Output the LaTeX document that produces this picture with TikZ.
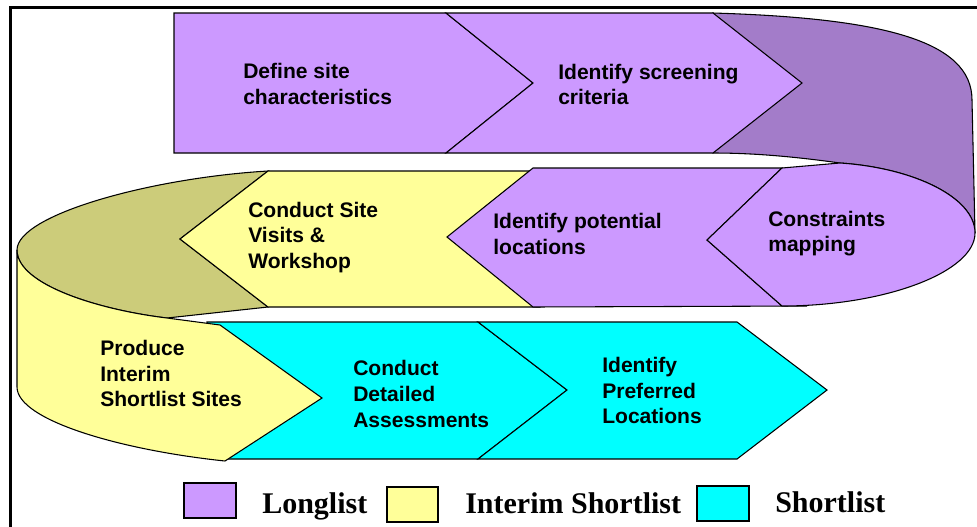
\documentclass[tikz,border=0pt]{standalone}
\usepackage{fontspec}
\setmainfont{Liberation Sans}
\newfontfamily\legendfont{Liberation Serif}
\definecolor{lpurple}{HTML}{CC99FF}
\definecolor{dpurple}{HTML}{A37CC9}
\definecolor{lyellow}{HTML}{FFFF99}
\definecolor{olive}{HTML}{CCCC7A}
\definecolor{lcyan}{HTML}{00FFFF}
\tikzset{
  shp/.style={draw=black, line width=0.8pt, line join=miter},
  lbl/.style={anchor=west, align=left, inner sep=0pt, font=\bfseries\fontsize{15.8}{19.2}\selectfont},
  leg/.style={anchor=base west, inner sep=0pt, font=\legendfont\bfseries\fontsize{22.5}{26}\selectfont},
  legbox/.style={draw=black, line width=0.8pt}
}
\begin{document}
\begin{tikzpicture}[x=0.75pt,y=-0.75pt]
\useasboundingbox (0,0) rectangle (977,526);
\clip (0,0) rectangle (977,526);
% frame
\draw[line width=2.25pt] (10,540) -- (10,7) -- (1000,7);
% dark back band
\fill[dpurple, shp] (713,13) .. controls (880,18) and (972,40) .. (972,100) -- (975,233)
  .. controls (975,198) and (915,168) .. (840,163)
  .. controls (790,156) and (750,153) .. (713,153) -- cycle;
% top row
\filldraw[fill=lpurple, shp] (174,13) -- (446,13) -- (533,83) -- (446,153) -- (174,153) -- cycle;
\filldraw[fill=lpurple, shp] (446,13) -- (713,13) -- (802,83) -- (713,153) -- (446,153) -- (533,83) -- cycle;
% second row: left olive loop
\filldraw[fill=olive, shp] (268,171) .. controls (150,178) and (17,215) .. (17,250)
  .. controls (17,285) and (100,310) .. (167,318) -- (268,307) -- (180,239) -- cycle;
\filldraw[fill=lyellow, shp] (268,171) -- (540,171) -- (540,307) -- (268,307) -- (180,239) -- cycle;
\filldraw[fill=lpurple, shp] (533,168) -- (782,168) -- (707,240) -- (782,306) -- (807,306) -- (533,307) -- (447,237) -- cycle;
\filldraw[fill=lpurple, shp] (782,168) -- (840,163) .. controls (915,168) and (975,198) .. (975,233)
  .. controls (975,272) and (885,306) .. (782,306) -- (707,240) -- cycle;
% third row
\filldraw[fill=lcyan, shp] (207,322) -- (478,322) -- (567,390) -- (478,459) -- (215,459) -- cycle;
\filldraw[fill=lcyan, shp] (478,322) -- (737,322) -- (827,390) -- (737,459) -- (478,459) -- (567,390) -- cycle;
\filldraw[fill=lyellow, shp] (17,250) -- (17,387) .. controls (17,420) and (120,450) .. (225,461)
  -- (322,398) -- (220,325) -- (167,318) .. controls (100,310) and (17,285) .. (17,250) -- cycle;
% labels
\node[lbl] (t1) at (243,84) {Define site\\characteristics};
\node[lbl] (t2) at (558,84.5) {Identify screening\\criteria};
\node[lbl] (t3) at (768,233.5) {Constraints\\mapping};
\node[lbl] (t4) at (493,234) {Identify potential\\locations};
\node[lbl] (t5) at (248,237.5) {Conduct Site\\Visits \&\\Workshop};
\node[lbl] (t6) at (100,373.5) {Produce\\Interim\\Shortlist Sites};
\node[lbl] (t7) at (353,394) {Conduct\\Detailed\\Assessments};
\node[lbl] (t8) at (602,390.5) {Identify\\Preferred\\Locations};
% legend
\filldraw[fill=lpurple, legbox] (184,483) rectangle (236,518);
\node[leg] (l1) at (262,513) {Longlist};
\filldraw[fill=lyellow, legbox] (387,487) rectangle (438,522);
\node[leg] (l2) at (465,513) {Interim Shortlist};
\filldraw[fill=lcyan, legbox] (697,486) rectangle (749,521);
\node[leg] (l3) at (775,512) {Shortlist};
\end{tikzpicture}
\end{document}
